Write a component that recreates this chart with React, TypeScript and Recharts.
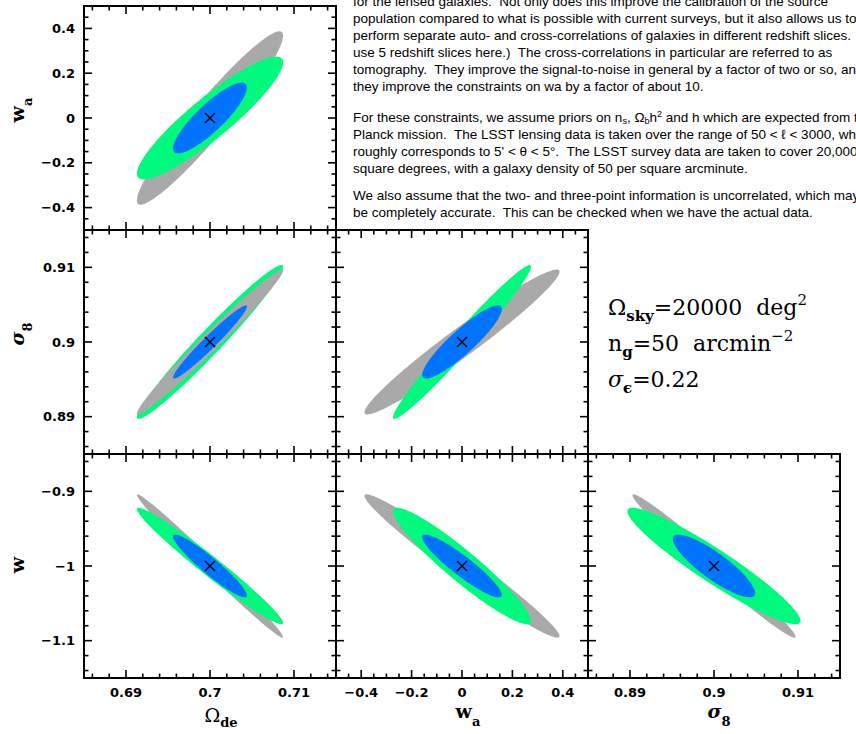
import React from "react";
import { ComposedChart, Area, Scatter, XAxis, YAxis } from "recharts";

// parameter order: Omega_de, w_a, sigma_8, w
const fiducial = [0.7, 0, 0.9, -1];

// half-extent of each 2-D contour along each parameter
const graySize = [0.0087, 0.387, 0.0097, 0.096];
const greenSize = [0.0087, 0.274, 0.0103, 0.078];
const blueSize = [0.0044, 0.158, 0.0049, 0.042];

// panels as [x param, y param], and the tilt (correlation) of each contour there
const pairs = [[0, 1], [0, 2], [1, 2], [0, 3], [1, 3], [2, 3]];
const grayRho = [0.95, 0.985, 0.97, -0.992, -0.978, -0.987];
const greenRho = [0.905, 0.975, 0.98, -0.977, -0.94, -0.94];
const blueRho = [0.86, 0.97, 0.9, -0.94, -0.92, -0.86];

// axes
const domains = [[0.685, 0.715], [-0.5, 0.5], [0.885, 0.915], [-1.15, -0.85]];
const majorTicks = [[0.69, 0.7, 0.71], [-0.4, -0.2, 0, 0.2, 0.4], [0.89, 0.9, 0.91], [-1.1, -1, -0.9]];
const minorStep = [0.002, 0.05, 0.002, 0.02];

const contours = [
  { key: "gray", size: graySize, rho: grayRho },
  { key: "green", size: greenSize, rho: greenRho },
  { key: "blue", size: blueSize, rho: blueRho },
];
const colors: Record<string, string> = { gray: "#a9a9a9", green: "#00fa7d", blue: "#0073ff" };
// in the Omega_de / sigma_8 panel the grey contour sits over the green one
const grayOnTop = [false, true, false, false, false, false];

// layout
const colX = [84, 336, 588];
const rowY = [6, 230, 454];
const W = 252;
const H = 224;
const PAD = 50;
const N = 120;

function tickList(i: number) {
  const [lo, hi] = domains[i];
  const s = minorStep[i];
  const out: number[] = [...majorTicks[i]];
  for (let k = Math.ceil(lo / s + 1e-6); k <= Math.floor(hi / s - 1e-6); k++) {
    const v = parseFloat((k * s).toFixed(6));
    if (!out.some((m) => Math.abs(m - v) < 1e-9)) out.push(v);
  }
  return out.sort((a, b) => a - b);
}

const fmt = (v: number) => String(parseFloat(v.toFixed(4))).replace("-", "\u2212");

function buildRows(xi: number, yi: number, p: number) {
  const cx = fiducial[xi];
  const cy = fiducial[yi];
  const xs: number[] = [];
  contours.forEach((c) => {
    for (let k = 0; k <= N; k++) xs.push(cx - c.size[xi] * Math.cos((Math.PI * k) / N));
  });
  xs.sort((a, b) => a - b);
  return xs.map((x) => {
    const row: any = { x };
    contours.forEach((c) => {
      const a = c.size[xi];
      const b = c.size[yi];
      const r = c.rho[p];
      const u = (x - cx) / a;
      if (Math.abs(u) > 1 + 1e-9) {
        row[c.key] = null;
        return;
      }
      const uu = Math.max(-1, Math.min(1, u));
      const s = Math.sqrt((1 - r * r) * (1 - uu * uu));
      row[c.key] = [cy + b * (r * uu - s), cy + b * (r * uu + s)];
    });
    return row;
  });
}

function FrameTick(props: any) {
  const { x, y, payload, side, majors, label } = props;
  const v = payload.value;
  const major = majors.some((m: number) => Math.abs(m - v) < 1e-9);
  const len = major ? 8 : 4.5;
  let line;
  if (side === "bottom") line = <line x1={x} y1={y} x2={x} y2={y - len} />;
  else if (side === "top") line = <line x1={x} y1={y} x2={x} y2={y + len} />;
  else if (side === "left") line = <line x1={x} y1={y} x2={x + len} y2={y} />;
  else line = <line x1={x} y1={y} x2={x - len} y2={y} />;
  let text = null;
  if (label && major) {
    const common = { fontFamily: "DejaVu Sans", fontWeight: 700, fontSize: 13, fill: "#000" };
    text =
      side === "bottom" ? (
        <text x={x} y={y + 19} textAnchor="middle" {...common}>{fmt(v)}</text>
      ) : (
        <text x={x - 9} y={y + 4.6} textAnchor="end" {...common}>{fmt(v)}</text>
      );
  }
  return (
    <g>
      <g stroke="#000" strokeWidth={1.6}>{line}</g>
      {text}
    </g>
  );
}

const XMark = (p: any) => (
  <g stroke="#000" strokeWidth={1.4}>
    <line x1={p.cx - 5} y1={p.cy - 5} x2={p.cx + 5} y2={p.cy + 5} />
    <line x1={p.cx - 5} y1={p.cy + 5} x2={p.cx + 5} y2={p.cy - 5} />
  </g>
);

const frame = { stroke: "#000", strokeWidth: 2, strokeLinecap: "square" as const };

function Panel({ p }: { p: number }) {
  const [xi, yi] = pairs[p];
  const rows = buildRows(xi, yi, p);
  const xTicks = tickList(xi);
  const yTicks = tickList(yi);
  const bottomLabels = yi === 3;
  const leftLabels = xi === 0;
  const order = grayOnTop[p] ? [contours[1], contours[0], contours[2]] : contours;
  return (
    <div style={{ position: "absolute", left: colX[xi] - PAD, top: rowY[yi - 1] - PAD }}>
      <ComposedChart width={W + 2 * PAD} height={H + 2 * PAD} data={rows} margin={{ top: 0, right: 0, bottom: 0, left: 0 }}>
        <XAxis xAxisId="b" dataKey="x" type="number" orientation="bottom" domain={domains[xi]} allowDataOverflow
          ticks={xTicks} interval={0} height={PAD} tickSize={0} tickMargin={0} axisLine={frame} tickLine={false}
          tick={(t: any) => <FrameTick {...t} side="bottom" majors={majorTicks[xi]} label={bottomLabels} />} />
        <XAxis xAxisId="t" dataKey="x" type="number" orientation="top" domain={domains[xi]} allowDataOverflow
          ticks={xTicks} interval={0} height={PAD} tickSize={0} tickMargin={0} axisLine={frame} tickLine={false}
          tick={(t: any) => <FrameTick {...t} side="top" majors={majorTicks[xi]} label={false} />} />
        <YAxis yAxisId="l" type="number" orientation="left" domain={domains[yi]} allowDataOverflow
          ticks={yTicks} interval={0} width={PAD} tickSize={0} tickMargin={0} axisLine={frame} tickLine={false}
          tick={(t: any) => <FrameTick {...t} side="left" majors={majorTicks[yi]} label={leftLabels} />} />
        <YAxis yAxisId="r" type="number" orientation="right" domain={domains[yi]} allowDataOverflow
          ticks={yTicks} interval={0} width={PAD} tickSize={0} tickMargin={0} axisLine={frame} tickLine={false}
          tick={(t: any) => <FrameTick {...t} side="right" majors={majorTicks[yi]} label={false} />} />
        {order.map((c) => (
          <Area key={c.key} xAxisId="b" yAxisId="l" dataKey={c.key} type="linear" fill={colors[c.key]} fillOpacity={1}
            stroke="none" dot={false} activeDot={false} connectNulls={false} isAnimationActive={false} />
        ))}
        <Scatter xAxisId="b" yAxisId="l" data={[{ x: fiducial[xi], y: fiducial[yi] }]} dataKey="y"
          shape={XMark} isAnimationActive={false} />
      </ComposedChart>
    </div>
  );
}

// baselines of the paragraph lines
const textBase = [5.5, 22.5, 39.5, 56.5, 73.5, 90.5, 121.5, 138.5, 155.5, 172.5, 199.5, 216.5];

export default function App() {
  const serif = "DejaVu Serif";
  const tx = 353;
  return (
    <div style={{ position: "absolute", left: 0, top: 0, width: 856, height: 734, overflow: "hidden", background: "#fff" }}>
      {pairs.map((_, p) => (
        <Panel key={p} p={p} />
      ))}
      <svg width={856} height={734} style={{ position: "absolute", left: 0, top: 0, pointerEvents: "none" }}>
        <g fontFamily="'Liberation Sans', Arial, sans-serif" fontSize={13.5} fill="#000">
          <text xmlSpace="preserve" x={tx} y={textBase[0]}>for the lensed galaxies.  Not only does this improve the calibration of the source</text>
          <text xmlSpace="preserve" x={tx} y={textBase[1]}>population compared to what is possible with current surveys, but it also allows us to</text>
          <text xmlSpace="preserve" x={tx} y={textBase[2]}>perform separate auto- and cross-correlations of galaxies in different redshift slices.  (We</text>
          <text xmlSpace="preserve" x={tx} y={textBase[3]}>use 5 redshift slices here.)  The cross-correlations in particular are referred to as</text>
          <text xmlSpace="preserve" x={tx} y={textBase[4]}>tomography.  They improve the signal-to-noise in general by a factor of two or so, and</text>
          <text xmlSpace="preserve" x={tx} y={textBase[5]}>they improve the constraints on wa by a factor of about 10.</text>
          <text xmlSpace="preserve" x={tx} y={textBase[6]}>For these constraints, we assume priors on n<tspan dy={2} fontSize={9}>s</tspan><tspan dy={-2}>, Ω</tspan><tspan dy={2} fontSize={9}>b</tspan><tspan dy={-2}>h</tspan><tspan dy={-5} fontSize={9}>2</tspan><tspan dy={5}> and h which are expected from the</tspan></text>
          <text xmlSpace="preserve" x={tx} y={textBase[7]}>Planck mission.  The LSST lensing data is taken over the range of 50 &lt; ℓ &lt; 3000, which</text>
          <text xmlSpace="preserve" x={tx} y={textBase[8]}>roughly corresponds to 5' &lt; θ &lt; 5°.  The LSST survey data are taken to cover 20,000</text>
          <text xmlSpace="preserve" x={tx} y={textBase[9]}>square degrees, with a galaxy density of 50 per square arcminute.</text>
          <text xmlSpace="preserve" x={tx} y={textBase[10]}>We also assume that the two- and three-point information is uncorrelated, which may not</text>
          <text xmlSpace="preserve" x={tx} y={textBase[11]}>be completely accurate.  This can be checked when we have the actual data.</text>
        </g>

        <g fontFamily={serif} fontSize={22} fill="#000">
          <text xmlSpace="preserve" x={608} y={315}>Ω<tspan dy={6} fontSize={15} fontWeight={700}>sky</tspan><tspan dy={-6}>=20000  deg</tspan><tspan dy={-10} fontSize={15}>2</tspan></text>
          <text xmlSpace="preserve" x={608} y={351}>n<tspan dy={6} fontSize={15} fontWeight={700}>g</tspan><tspan dy={-6}>=50  arcmin</tspan><tspan dy={-10} fontSize={15}>−2</tspan></text>
          <text xmlSpace="preserve" x={608} y={387}><tspan fontStyle="italic">σ</tspan><tspan dy={6} fontSize={15} fontWeight={700}>ϵ</tspan><tspan dy={-6}>=0.22</tspan></text>
        </g>

        <g fontFamily={serif} fill="#000">
          <text x={221} y={722} textAnchor="middle" fontSize={19}>
            Ω<tspan dy={5} fontSize={13} fontWeight={700}>de</tspan>
          </text>
          <text x={468} y={718} textAnchor="middle" fontSize={19} fontWeight={700}>
            w<tspan dy={8} fontSize={13}>a</tspan>
          </text>
          <text x={719} y={718} textAnchor="middle" fontSize={19}>
            <tspan fontStyle="italic" fontWeight={700}>σ</tspan><tspan dy={8} fontSize={13} fontWeight={700}>8</tspan>
          </text>
          <text transform="translate(24,110) rotate(-90)" textAnchor="middle" fontSize={19} fontWeight={700}>
            w<tspan dy={8} fontSize={13}>a</tspan>
          </text>
          <text transform="translate(24,334) rotate(-90)" textAnchor="middle" fontSize={19}>
            <tspan fontStyle="italic" fontWeight={700}>σ</tspan><tspan dy={8} fontSize={13} fontWeight={700}>8</tspan>
          </text>
          <text transform="translate(24,565) rotate(-90)" textAnchor="middle" fontSize={19} fontWeight={700}>
            w
          </text>
        </g>
      </svg>
    </div>
  );
}
